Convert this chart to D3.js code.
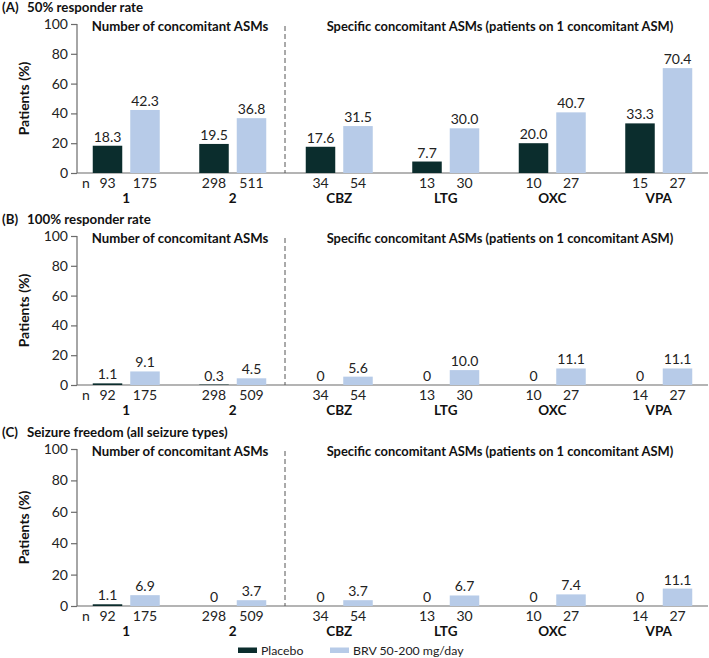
<!DOCTYPE html>
<html>
<head>
<meta charset="utf-8">
<script src="https://cdn.jsdelivr.net/npm/d3@7"></script>
<style>
  html, body { margin: 0; padding: 0; background: #fff; }
  svg { display: block; font-family: Lato, "Open Sans", sans-serif; }
</style>
</head>
<body>
<svg id="chart" width="709" height="658"></svg>
<script>
// ---- data ----
const groups = ["1", "2", "CBZ", "LTG", "OXC", "VPA"];
const seriesNames = ["Placebo", "BRV 50-200 mg/day"];
const yTicks = [0, 20, 40, 60, 80, 100];

const titleA = "50% responder rate";
const placeboA = [18.3, 19.5, 17.6, 7.7, 20.0, 33.3];
const brvA     = [42.3, 36.8, 31.5, 30.0, 40.7, 70.4];
const nPlaceboA = [93, 298, 34, 13, 10, 15];
const nBrvA     = [175, 511, 54, 30, 27, 27];

const titleB = "100% responder rate";
const placeboB = [1.1, 0.3, 0, 0, 0, 0];
const brvB     = [9.1, 4.5, 5.6, 10.0, 11.1, 11.1];
const nPlaceboB = [92, 298, 34, 13, 10, 14];
const nBrvB     = [175, 509, 54, 30, 27, 27];

const titleC = "Seizure freedom (all seizure types)";
const placeboC = [1.1, 0, 0, 0, 0, 0];
const brvC     = [6.9, 3.7, 3.7, 6.7, 7.4, 11.1];
const nPlaceboC = [92, 298, 34, 13, 10, 14];
const nBrvC     = [175, 509, 54, 30, 27, 27];

const subLeft = "Number of concomitant ASMs";
const subRight = "Specific concomitant ASMs (patients on 1 concomitant ASM)";

// ---- layout ----
const colors = ["#0b2d2d", "#b7cbe8"];
const axisColor = "#6b6b6b";
const svg = d3.select("#chart");

const x = d3.scaleBand().domain(groups).range([73, 712]).padding(0);
const panels = [
  { tag: "(A)", title: titleA, p: placeboA, b: brvA, np: nPlaceboA, nb: nBrvA, top: 24, bottom: 173, titleY: 12 },
  { tag: "(B)", title: titleB, p: placeboB, b: brvB, np: nPlaceboB, nb: nBrvB, top: 236, bottom: 385, titleY: 224 },
  { tag: "(C)", title: titleC, p: placeboC, b: brvC, np: nPlaceboC, nb: nBrvC, top: 449, bottom: 606, titleY: 437 }
];
const fmt = v => v === 0 ? "0" : d3.format(".1f")(v);
const axisX = 77;
const numSize = 14;

panels.forEach(P => {
  const g = svg.append("g");
  const y = d3.scaleLinear().domain([0, 100]).range([P.bottom, P.top]);

  // panel title
  g.append("text").attr("x", 2).attr("y", P.titleY)
    .attr("font-size", 13.3).attr("font-weight", "bold").attr("fill", "#111")
    .text(P.tag);
  g.append("text").attr("x", 27).attr("y", P.titleY)
    .attr("font-size", 13.3).attr("font-weight", "bold").attr("fill", "#111")
    .text(P.title);

  // y axis
  const yAxis = d3.axisLeft(y).tickValues(yTicks).tickSize(6).tickPadding(3);
  const ya = g.append("g").attr("transform", `translate(${axisX},0)`).call(yAxis);
  ya.select(".domain").attr("stroke", axisColor).attr("stroke-width", 1.2).attr("d", `M0,${P.top}V${P.bottom}`);
  ya.selectAll(".tick line").attr("stroke", axisColor).attr("stroke-width", 1.2);
  ya.selectAll(".tick text").attr("font-size", numSize).attr("fill", "#222")
    .attr("font-family", "Lato, 'Open Sans', sans-serif");

  g.append("text")
    .attr("transform", `translate(29,${(P.top + P.bottom) / 2}) rotate(-90)`)
    .attr("text-anchor", "middle").attr("font-size", 14).attr("font-weight", "bold").attr("fill", "#111")
    .text("Patients (%)");

  // x axis baseline
  g.append("line").attr("x1", axisX).attr("x2", 708).attr("y1", P.bottom).attr("y2", P.bottom)
    .attr("stroke", axisColor).attr("stroke-width", 1.2);

  // dashed separator
  const sepX = x("CBZ") - 1;
  g.append("line").attr("x1", sepX).attr("x2", sepX).attr("y1", P.top + 2).attr("y2", P.bottom)
    .attr("stroke", "#555").attr("stroke-width", 1).attr("stroke-dasharray", "5,3");

  // sub headers
  g.append("text").attr("x", 180).attr("y", P.top + 7).attr("text-anchor", "middle")
    .attr("font-size", 13.2).attr("font-weight", "bold").attr("fill", "#111").text(subLeft);
  g.append("text").attr("x", 500).attr("y", P.top + 7).attr("text-anchor", "middle")
    .attr("font-size", 12.9).attr("font-weight", "bold").attr("fill", "#111").text(subRight);

  // bars
  groups.forEach((grp, i) => {
    const c = x(grp) + x.bandwidth() / 2;
    const xi = d3.scaleBand().domain([0, 1]).range([c - 33.5, c + 33.5]).paddingInner(16 / 75).paddingOuter(0);
    const vals = [P.p[i], P.b[i]];
    const ns = [P.np[i], P.nb[i]];
    vals.forEach((v, k) => {
      g.append("rect").attr("x", xi(k)).attr("width", xi.bandwidth())
        .attr("y", y(v)).attr("height", y(0) - y(v)).attr("fill", colors[k]);
      g.append("text").attr("x", xi(k) + xi.bandwidth() / 2).attr("y", y(v) - 4)
        .attr("text-anchor", "middle").attr("font-size", numSize).attr("fill", "#222").text(fmt(v));
      g.append("text").attr("x", xi(k) + xi.bandwidth() / 2).attr("y", P.bottom + 15)
        .attr("text-anchor", "middle").attr("font-size", numSize).attr("fill", "#222").text(ns[k]);
    });
    g.append("text").attr("x", c).attr("y", P.bottom + 30)
      .attr("text-anchor", "middle").attr("font-size", 13.5).attr("font-weight", "bold").attr("fill", "#111").text(grp);
  });
  g.append("text").attr("x", 86).attr("y", P.bottom + 15).attr("text-anchor", "middle")
    .attr("font-size", numSize).attr("fill", "#222").text("n");
});

// legend
const legendX = [238, 330];
seriesNames.forEach((name, k) => {
  svg.append("rect").attr("x", legendX[k]).attr("y", 647.5).attr("width", 19).attr("height", 5.5).attr("fill", colors[k]);
  svg.append("text").attr("x", legendX[k] + 23).attr("y", 654.5).attr("font-size", 12.3).attr("fill", "#222").text(name);
});
</script>
</body>
</html>
